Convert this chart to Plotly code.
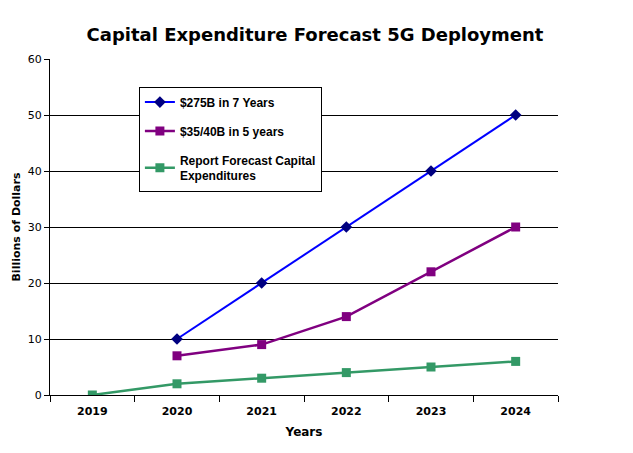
import plotly.graph_objects as go

years = ["2019", "2020", "2021", "2022", "2023", "2024"]
blue_years = ["2020", "2021", "2022", "2023", "2024"]
blue_vals = [10, 20, 30, 40, 50]
purple_years = ["2020", "2021", "2022", "2023", "2024"]
purple_vals = [7, 9, 14, 22, 30]
green_years = ["2019", "2020", "2021", "2022", "2023", "2024"]
green_vals = [0, 2, 3, 4, 5, 6]
y_ticks = [0, 10, 20, 30, 40, 50, 60]
grid_vals = [10, 20, 30, 40, 50]

FONT = "Liberation Sans, Arial, sans-serif"
HEAVY = "DejaVu Sans, Liberation Sans, sans-serif"

fig = go.Figure()
fig.add_trace(go.Scatter(x=blue_years, y=blue_vals, mode="lines+markers",
                         name="$275B in 7 Years", legendgroup="a",
                         line=dict(color="#0000FF", width=2),
                         marker=dict(symbol="diamond", size=9, color="#000080")))
fig.add_trace(go.Scatter(x=purple_years, y=purple_vals, mode="lines+markers",
                         name="$35/40B in 5 years", legendgroup="b",
                         line=dict(color="#800080", width=2.5),
                         marker=dict(symbol="square", size=9, color="#800080")))
fig.add_trace(go.Scatter(x=green_years, y=green_vals, mode="lines+markers",
                         name="Report Forecast Capital<br>Expenditures", legendgroup="c",
                         line=dict(color="#339966", width=2.5),
                         marker=dict(symbol="square", size=9, color="#339966")))
# invisible trace for gridline axis
fig.add_trace(go.Scatter(x=[years[0]], y=[0], yaxis="y2", mode="markers",
                         marker=dict(opacity=0), showlegend=False, hoverinfo="skip"))

fig.update_layout(
    width=633, height=453,
    paper_bgcolor="white", plot_bgcolor="white",
    margin=dict(l=42, r=83, t=51, b=66, autoexpand=False),
    title=dict(text="<b>Capital Expenditure Forecast 5G Deployment</b>",
               x=0.485, xanchor="center", y=0.94, yanchor="middle",
               font=dict(family=HEAVY, size=18, color="black")),
    font=dict(family=FONT, color="black"),
    xaxis=dict(type="category", categoryorder="array", categoryarray=years,
               tickson="boundaries", ticks="outside", ticklen=6, tickcolor="black",
               showline=True, linecolor="black", linewidth=1, showgrid=False,
               ticklabelstandoff=6,
               tickfont=dict(size=11, family=HEAVY), tickprefix="<b>", ticksuffix="</b>",
               title=dict(text="<b>Years</b>", font=dict(size=12, family=HEAVY), standoff=10),
               zeroline=False, range=[-0.5, 5.5], automargin=False),
    yaxis=dict(range=[0, 60], tickvals=y_ticks, ticks="outside", ticklen=5,
               tickcolor="black", showline=True, linecolor="black", linewidth=1,
               showgrid=False, zeroline=False, automargin=False,
               tickfont=dict(size=11, family=HEAVY), tickprefix="<b>", ticksuffix="</b>",
               title=dict(text="<b>Billions of Dollars</b>", font=dict(size=11, family=HEAVY),
                          standoff=4)),
    yaxis2=dict(range=[0, 60], overlaying="y", tickvals=grid_vals, showgrid=True,
                gridcolor="black", gridwidth=1, showticklabels=False, ticks="",
                zeroline=False, showline=False),
    legend=dict(x=0.175, y=0.918, xanchor="left", yanchor="top",
                bgcolor="white", bordercolor="black", borderwidth=1,
                font=dict(size=12, family=FONT, weight="bold"),
                traceorder="grouped", tracegroupgap=10, itemwidth=30),
    showlegend=True,
)

fig.write_html("out.html")
